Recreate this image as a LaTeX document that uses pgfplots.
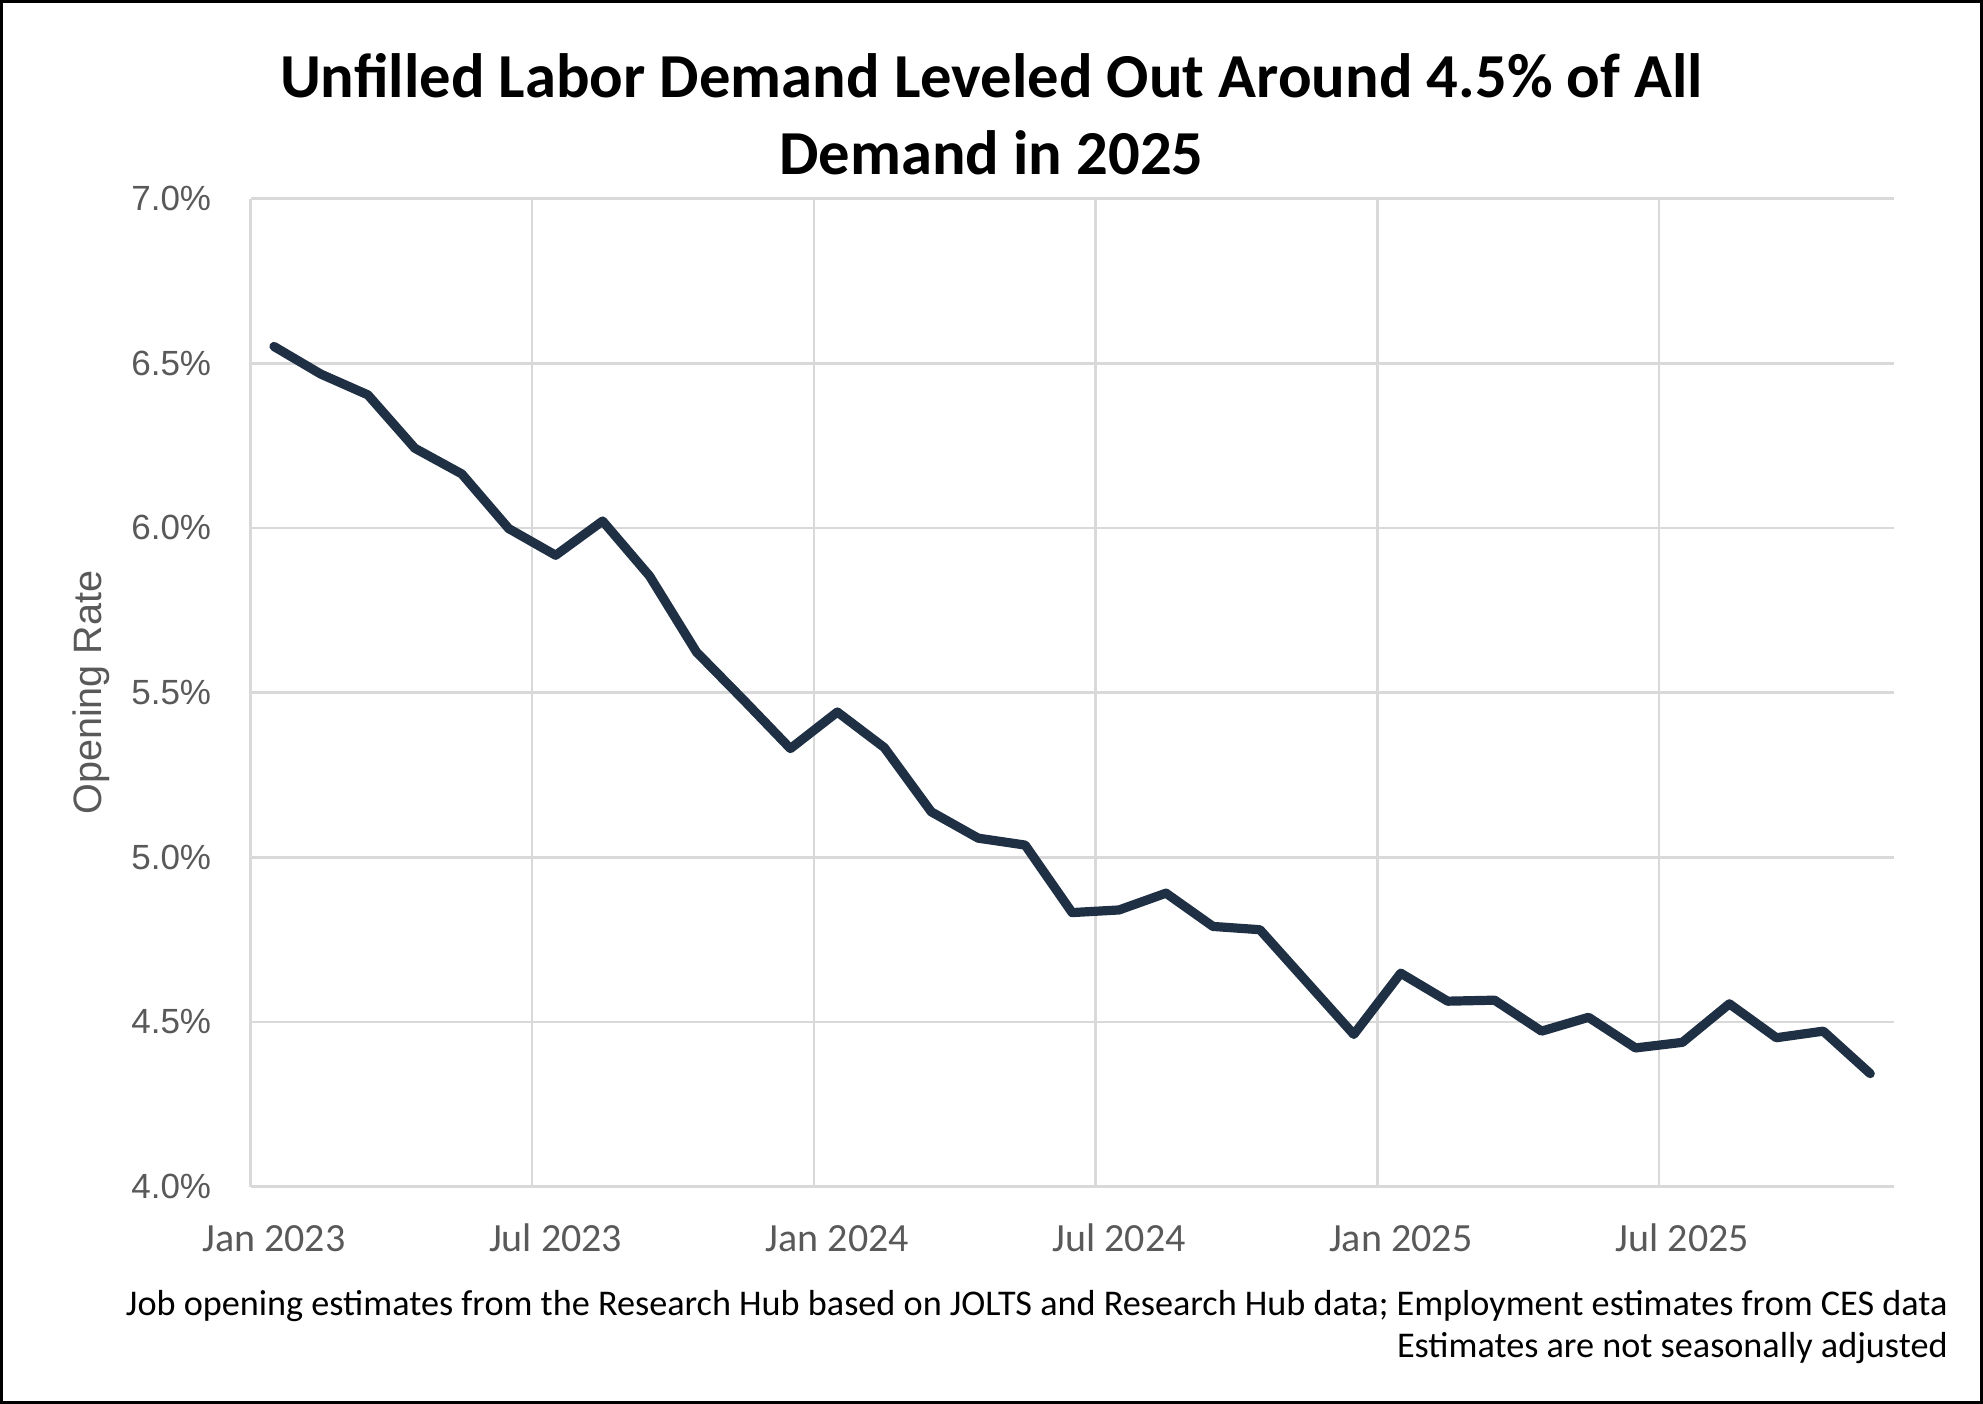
\documentclass[border=0pt]{standalone}
\usepackage{fontspec}
\setmainfont{Carlito}
\newfontfamily\arialfont{Liberation Sans}
\usepackage{pgfplots}
\pgfplotsset{compat=1.18}
\definecolor{linecol}{HTML}{203044}
\definecolor{gridcol}{HTML}{D9D9D9}
\definecolor{labcol}{HTML}{595959}

\begin{document}
\begin{tikzpicture}
\useasboundingbox (0,0) rectangle (991.5bp,702bp);
\draw[line width=1.5bp] (0.75bp,0.75bp) rectangle (990.75bp,701.25bp);

% title
\node[anchor=base, inner sep=0pt, font=\fontsize{31.3bp}{36bp}\selectfont\bfseries]
  at (495.75bp,653.3bp) {Unfilled Labor Demand Leveled Out Around 4.5\% of All};
\node[anchor=base, inner sep=0pt, font=\fontsize{31.3bp}{36bp}\selectfont\bfseries]
  at (495.75bp,614.7bp) {Demand in 2025};

\begin{axis}[
    at={(125.25bp,108.7bp)}, anchor=south west,
    scale only axis,
    width=821.6bp, height=494bp,
    xmin=-0.5, xmax=34.5,
    ymin=4, ymax=7,
    axis lines*=left,
    axis line style={gridcol, line width=1.3bp, -},
    xtick={0,6,12,18,24,30},
    xticklabels={Jan 2023, Jul 2023, Jan 2024, Jul 2024, Jan 2025, Jul 2025},
    minor xtick={5.5,11.5,17.5,23.5,29.5},
    xminorgrids, ymajorgrids,
    grid style={gridcol, line width=1.3bp},
    minor grid style={gridcol, line width=1.3bp},
    ytick={4,4.5,5,5.5,6,6.5,7},
    yticklabels={4.0\%,4.5\%,5.0\%,5.5\%,6.0\%,6.5\%,7.0\%},
    major tick length=0pt, minor tick length=0pt,
    tick style={draw=none},
    xticklabel style={anchor=base, inner sep=0pt, yshift=-32.7bp,
        text=labcol, font=\fontsize{20bp}{24bp}\selectfont},
    yticklabel style={anchor=east, inner sep=0pt, xshift=-19.5bp,
        text=labcol, font=\arialfont\fontsize{17.5bp}{21bp}\selectfont},
    ylabel={Opening Rate},
    ylabel style={at={(axis description cs:-0.0971,0.5)}, anchor=center,
        inner sep=0pt, text=labcol, font=\arialfont\fontsize{19.8bp}{23bp}\selectfont},
]
\addplot[linecol, line width=4.6bp, line cap=round, line join=round, mark=none]
  coordinates {
    (0,6.551) (1,6.467) (2,6.404) (3,6.242) (4,6.164) (5,5.998)
    (6,5.917) (7,6.021) (8,5.854) (9,5.623) (10,5.478) (11,5.330)
    (12,5.441) (13,5.333) (14,5.138) (15,5.058) (16,5.037) (17,4.832)
    (18,4.840) (19,4.891) (20,4.790) (21,4.780) (22,4.621) (23,4.462)
    (24,4.648) (25,4.563) (26,4.566) (27,4.472) (28,4.514) (29,4.421)
    (30,4.438) (31,4.555) (32,4.452) (33,4.472) (34,4.343)
  };
\end{axis}

% source notes
\node[anchor=base east, inner sep=0pt, font=\fontsize{18.1bp}{22bp}\selectfont]
  at (974bp,44.2bp) {Job opening estimates from the Research Hub based on JOLTS and Research Hub data; Employment estimates from CES data};
\node[anchor=base east, inner sep=0pt, font=\fontsize{18.1bp}{22bp}\selectfont]
  at (974bp,23.5bp) {Estimates are not seasonally adjusted};
\end{tikzpicture}
\end{document}
